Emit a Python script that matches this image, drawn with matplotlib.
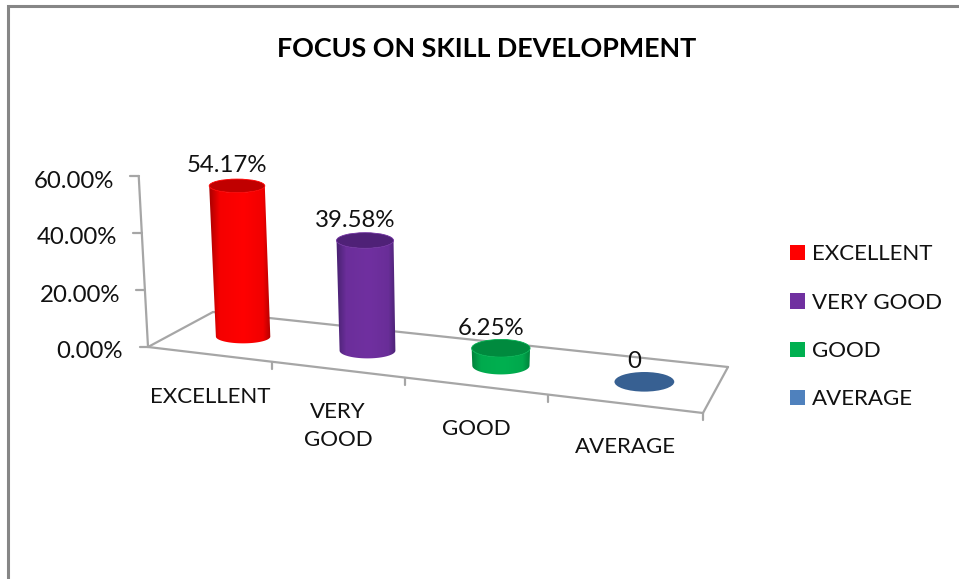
import numpy as np
import matplotlib
matplotlib.use("Agg")
import matplotlib.pyplot as plt
from matplotlib.patches import Ellipse, PathPatch, Patch
from matplotlib.path import Path

title = "FOCUS ON SKILL DEVELOPMENT"
categories = ["EXCELLENT", "VERY\nGOOD", "GOOD", "AVERAGE"]
legend_labels = ["EXCELLENT", "VERY GOOD", "GOOD", "AVERAGE"]
values = [54.17, 39.58, 6.25, 0.0]
value_labels = ["54.17%", "39.58%", "6.25%", "0"]
y_ticks = [0, 20, 40, 60]
y_tick_labels = ["0.00%", "20.00%", "40.00%", "60.00%"]
face_colors = ["#FF0000", "#7030A0", "#00B050", "#376092"]
edge_colors = ["#A00000", "#43206B", "#007A38", "#2F5480"]
top_colors = ["#C00000", "#4F2177", "#008A3E", "#376092"]
legend_colors = ["#FF0000", "#7030A0", "#00B050", "#4F81BD"]

plt.rcParams["font.family"] = ["Lato", "DejaVu Sans"]
fig = plt.figure(figsize=(9.59, 5.79), dpi=100)
ax = fig.add_axes([0, 0, 1, 1])

# perspective floor: unit square -> quadrilateral
src = [(0, 0), (1, 0), (1, 1), (0, 1)]
dst = [(148, 347), (703, 413), (728, 367), (213, 312)]
A, b = [], []
for (s, t), (X, Y) in zip(src, dst):
    A.append([s, t, 1, 0, 0, 0, -s * X, -t * X]); b.append(X)
    A.append([0, 0, 0, s, t, 1, -s * Y, -t * Y]); b.append(Y)
H = np.append(np.linalg.solve(np.array(A, float), np.array(b, float)), 1).reshape(3, 3)
PX_PER_UNIT = 2.85
VANISH_X, VANISH_DIST = 520.0, 6850.0
N = len(categories)


def project(u, v=0.0, h=0.0):
    p = H @ np.array([u / N, v, 1.0])
    x, y = p[0] / p[2], p[1] / p[2]
    dy = h * PX_PER_UNIT * (1 - 0.05 * v)
    return x - (VANISH_X - x) / VANISH_DIST * dy, y - dy


LINE = dict(color="#A6A6A6", lw=1.6, solid_capstyle="round", zorder=1)


def seg(a, b_):
    ax.plot([a[0], b_[0]], [a[1], b_[1]], **LINE)


# outer frame
ax.plot([7.5, 7.5, 959], [579, 5.5, 5.5], color="#868686", lw=2.2, solid_joinstyle="miter", zorder=1)

# floor outline and axis
seg(project(0), project(N))
seg(project(N), project(N, 1))
seg(project(N, 1), project(0, 1))
seg(project(0, 1), project(0))
seg(project(0), project(0, 0, max(y_ticks)))
for t, lab in zip(y_ticks, y_tick_labels):
    x, y = project(0, 0, t)
    seg((x - 8.5, y), (x, y))
    ax.text(x - 25, y + 5, lab, ha="right", va="center", fontsize=17.3, color="#111111")
for i in range(1, N + 1):
    x, y = project(i)
    seg((x, y), (x, y + 7))
for i, lab in enumerate(categories):
    x, y = project(i + 0.5)
    ax.text(x + 1, y + 33, lab, ha="center", va="top", fontsize=16, color="#111111", linespacing=1.45)


def ell_pts(cx, cy, rx, ry, t0, t1, n=60):
    t = np.linspace(t0, t1, n)
    return np.column_stack([cx + rx * np.cos(t), cy + ry * np.sin(t)])


# cylinders
DEPTH = 0.48
for i, val in enumerate(values):
    rx = 27.2 + 0.7 * i + (0.6 if i == 3 else 0)
    ry = 6.8 + 1.0 * i
    bx, by = project(i + 0.53, DEPTH, 0)
    tx, ty = project(i + 0.53, DEPTH, val)
    if val > 0:
        low = ell_pts(bx, by, rx, ry, np.pi, 0)
        top = ell_pts(tx, ty, rx + 0.6, ry, 0, np.pi)
        verts = np.vstack([low, top, low[:1]])
        codes = [Path.MOVETO] + [Path.LINETO] * (len(verts) - 2) + [Path.CLOSEPOLY]
        outline = PathPatch(Path(verts, codes), fc="none", ec="none", transform=ax.transData)
        ax.add_patch(outline)
        c0 = np.array(matplotlib.colors.to_rgb(edge_colors[i]))
        c1 = np.array(matplotlib.colors.to_rgb(face_colors[i]))
        s = np.linspace(0, 1, 200)
        f = np.interp(s, [0, 0.18, 0.55, 0.85, 1], [0, 0.9, 1, 0.85, 0])
        grad = (c0[None, :] + (c1 - c0)[None, :] * f[:, None])[None, :, :]
        x0 = min(bx, tx) - rx - 2
        x1 = max(bx, tx) + rx + 2
        im = ax.imshow(grad, extent=(x0, x1, by + ry + 2, ty - ry - 2), aspect="auto",
                       interpolation="bilinear", zorder=3)
        im.set_clip_path(outline)
        ax.add_patch(Ellipse((tx, ty), 2 * (rx + 0.6), 2 * ry, fc=top_colors[i], ec=face_colors[i],
                             lw=0.6, alpha=1, zorder=4))
    else:
        ax.add_patch(Ellipse((bx, by), 2 * rx, 2 * ry, fc=top_colors[i], ec="none", zorder=4))
    ax.text(tx - 10, ty - 20, value_labels[i], ha="center", va="center", fontsize=17.3,
            color="#111111", zorder=5)

ax.text(487, 49, title, ha="center", va="center", fontsize=19.4, fontweight="bold", color="black")

handles = [Patch(fc=c, ec="none", label=l) for c, l in zip(legend_colors, legend_labels)]
leg = ax.legend(handles=handles, loc="upper left", bbox_to_anchor=(790, 244.5), bbox_transform=ax.transData,
                frameon=False, fontsize=16, borderpad=0, borderaxespad=0, labelspacing=1.27,
                handlelength=0.675, handleheight=0.675, handletextpad=0.3, labelcolor="#111111")

ax.set_xlim(0, 959)
ax.set_ylim(579, 0)
ax.axis("off")
fig.savefig("out.png", dpi=100)
